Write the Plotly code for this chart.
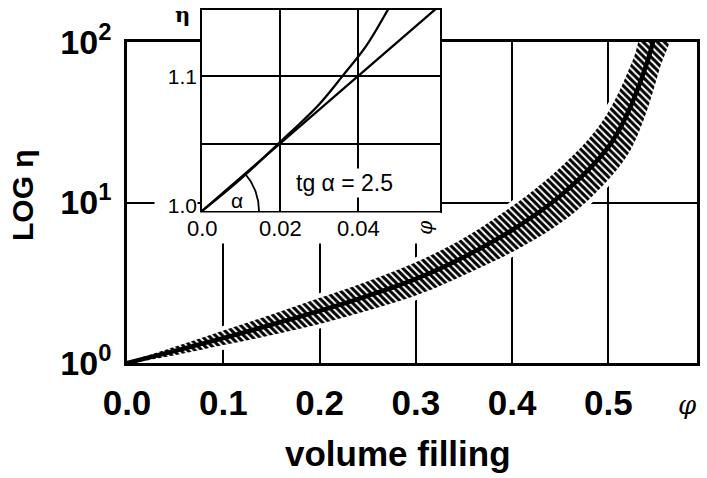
import numpy as np
import plotly.graph_objects as go

# ---------------- data ----------------
# main plot: centre curve and limits of the hatched band (log eta vs volume filling phi)
phi_center = [0.0, 0.05, 0.10, 0.15, 0.20, 0.25, 0.30, 0.35, 0.40, 0.45, 0.50, 0.52, 0.54, 0.548]
eta_center = [1.0, 1.19, 1.43, 1.73, 2.11, 2.62, 3.34, 4.58, 6.74, 11.0, 22.2, 36.1, 74.0, 110.0]

phi_upper = [0.0, 0.0488, 0.0978, 0.1472, 0.1967, 0.2457, 0.2940, 0.3422, 0.3880, 0.4340, 0.4820, 0.5040, 0.5262, 0.5358]
eta_upper = [1.0, 1.256, 1.578, 1.980, 2.505, 3.165, 4.098, 5.649, 8.45, 13.6, 26.0, 40.5, 79.5, 111.1]

phi_lower = [0.0, 0.0509, 0.1016, 0.1529, 0.2042, 0.2548, 0.3062, 0.3577, 0.4116, 0.4660, 0.5170, 0.5360, 0.5535, 0.5639]
eta_lower = [1.0, 1.123, 1.298, 1.503, 1.775, 2.161, 2.719, 3.706, 5.35, 8.80, 18.6, 32.0, 69.0, 115.0]

main_xticks = [0.0, 0.1, 0.2, 0.3, 0.4, 0.5]
main_xticktext = ["0.0", "0.1", "0.2", "0.3", "0.4", "0.5"]
main_yticks = [1, 10, 100]
main_yticktext = ["10<sup>0</sup>", "10<sup>1</sup>", "10<sup>2</sup>"]

# inset: Einstein straight line (tg alpha = 2.5) and measured curve
ins_line_phi = [0.0, 0.061]
ins_line_eta = [1.0, 1.1525]
ins_curve_phi = [0.0, 0.010, 0.020, 0.030, 0.036, 0.042, 0.0474, 0.050]
ins_curve_eta = [1.0, 1.024, 1.051, 1.079, 1.100, 1.122, 1.148, 1.162]

ins_xticks = [0.0, 0.02, 0.04]
ins_xticktext = ["0.0", "0.02", "0.04"]
ins_yticks = [1.0, 1.1]
ins_yticktext = ["1.0", "1.1"]
tg_alpha = 2.5

# ---------------- geometry ----------------
W, H = 707, 478
main_dom_x = [127 / W, 697 / W]
main_dom_y = [1 - 363 / H, 1 - 42 / H]
main_xrange = [0, 0.592]
main_yrange = [0, 2]

ins_dom_x = [202 / W, 440 / W]
ins_dom_y = [1 - 211 / H, 1 - 10 / H]
ins_xrange = [0, 0.061]
ins_yrange = [1.0, 1.149]

def ins_paper(xv, yv):
    px = ins_dom_x[0] + (xv - ins_xrange[0]) / (ins_xrange[1] - ins_xrange[0]) * (ins_dom_x[1] - ins_dom_x[0])
    py = ins_dom_y[0] + (yv - ins_yrange[0]) / (ins_yrange[1] - ins_yrange[0]) * (ins_dom_y[1] - ins_dom_y[0])
    return px, py

# pixel scale of the inset, used to draw the angle arc as a true circle
sx = (ins_dom_x[1] - ins_dom_x[0]) * W / (ins_xrange[1] - ins_xrange[0])
sy = (ins_dom_y[1] - ins_dom_y[0]) * H / (ins_yrange[1] - ins_yrange[0])
ang = np.arctan(tg_alpha * sy / sx)
t = np.linspace(0, ang, 40)
r_px = 57
arc_x = r_px * np.cos(t) / sx
arc_y = ins_yrange[0] + r_px * np.sin(t) / sy

FONT = "Liberation Sans, Arial, Helvetica, sans-serif"

fig = go.Figure()

band_x = phi_upper + phi_lower[::-1]
band_y = eta_upper + eta_lower[::-1]

# white halo around the band (interrupts grid lines)
fig.add_trace(go.Scatter(x=band_x, y=band_y, mode="lines", line=dict(color="white", width=9, shape="spline"),
                         xaxis="x", yaxis="y", hoverinfo="skip", showlegend=False))
# hatched band
fig.add_trace(go.Scatter(x=band_x, y=band_y, mode="lines", fill="toself", fillcolor="white",
                         fillpattern=dict(shape="\\", size=5, solidity=0.6, fgcolor="black", bgcolor="white",
                                          fgopacity=1),
                         line=dict(color="rgba(0,0,0,0)", width=0, shape="spline"),
                         xaxis="x", yaxis="y", hoverinfo="skip", showlegend=False))
# centre curve
fig.add_trace(go.Scatter(x=phi_center, y=eta_center, mode="lines", line=dict(color="black", width=4.5, shape="spline"),
                         xaxis="x", yaxis="y", hoverinfo="skip", showlegend=False))

# inset traces
fig.add_trace(go.Scatter(x=ins_line_phi, y=ins_line_eta, mode="lines", line=dict(color="black", width=2.3),
                         xaxis="x2", yaxis="y2", hoverinfo="skip", showlegend=False))
fig.add_trace(go.Scatter(x=ins_curve_phi, y=ins_curve_eta, mode="lines", line=dict(color="black", width=2.3, shape="spline"),
                         xaxis="x2", yaxis="y2", hoverinfo="skip", showlegend=False))
fig.add_trace(go.Scatter(x=arc_x, y=arc_y, mode="lines", line=dict(color="black", width=1.8),
                         xaxis="x2", yaxis="y2", hoverinfo="skip", showlegend=False))

axis_common = dict(showline=True, linecolor="black", mirror=True, zeroline=False, ticks="",
                   showgrid=True, gridcolor="black", fixedrange=True, automargin=False)

fig.update_layout(
    width=W, height=H, margin=dict(l=0, r=0, t=0, b=0, autoexpand=False),
    paper_bgcolor="white", plot_bgcolor="white", showlegend=False,
    xaxis=dict(domain=main_dom_x, range=main_xrange, tickvals=main_xticks, ticktext=main_xticktext,
               tickfont=dict(family=FONT, size=35, color="black", weight="bold"),
               ticklabelstandoff=7, linewidth=2.5, gridwidth=2, anchor="y", **axis_common),
    yaxis=dict(domain=main_dom_y, type="log", range=main_yrange, tickvals=main_yticks, ticktext=main_yticktext,
               tickfont=dict(family=FONT, size=34, color="black", weight="bold"),
               ticklabelstandoff=6, linewidth=2.5, gridwidth=2, anchor="x", **axis_common),
    xaxis2=dict(domain=ins_dom_x, range=ins_xrange, tickvals=[0.02, 0.04], showticklabels=False,
                linewidth=2, gridwidth=2, anchor="y2", **axis_common),
    yaxis2=dict(domain=ins_dom_y, range=ins_yrange, tickvals=[1.05, 1.1], showticklabels=False,
                linewidth=2, gridwidth=2, anchor="x2", **axis_common),
    shapes=[dict(type="rect", xref="x2", yref="y2", x0=ins_xrange[0], x1=ins_xrange[1],
                 y0=ins_yrange[0], y1=ins_yrange[1], layer="below", fillcolor="white", line=dict(width=0))],
)

ann = []
# white cover under the inset's tick labels
ann.append(dict(xref="paper", yref="paper", x=(157 + 440) / 2 / W, y=1 - 228 / H, text=" ",
                width=283, height=30, bgcolor="white", showarrow=False, borderpad=0,
                xanchor="center", yanchor="middle"))
# inset x tick labels
for v, s in zip(ins_xticks, ins_xticktext):
    px, py = ins_paper(v, ins_yrange[0])
    ann.append(dict(xref="paper", yref="paper", x=px, y=py, yshift=-18, text=s, showarrow=False,
                    font=dict(family=FONT, size=22, color="black"), xanchor="center", yanchor="middle"))
px, py = ins_paper(0.0571, ins_yrange[0])
ann.append(dict(xref="paper", yref="paper", x=px, y=py, yshift=-17, text="<i>φ</i>", showarrow=False,
                textangle=-90, font=dict(family="DejaVu Serif", size=20, color="black"),
                xanchor="center", yanchor="middle"))
# inset y tick labels
for v, s in zip(ins_yticks, ins_yticktext):
    px, py = ins_paper(ins_xrange[0], v)
    ann.append(dict(xref="paper", yref="paper", x=px, y=py, xshift=-4, yshift=5 if v == 1.0 else 0,
                    text=s, showarrow=False, bgcolor="white", width=42, align="right", borderpad=0,
                    font=dict(family=FONT, size=21, color="black"), xanchor="right", yanchor="middle"))
# eta label of inset
ann.append(dict(xref="paper", yref="paper", x=182 / W, y=1 - 14 / H, text="<b>η</b>", showarrow=False,
                font=dict(family="DejaVu Serif", size=21, color="black"), xanchor="center", yanchor="middle"))
# tg alpha text
px, py = ins_paper(0.0366, 1.0207)
ann.append(dict(xref="paper", yref="paper", x=px, y=py, text="tg α = 2.5", showarrow=False, bgcolor="white",
                borderpad=1, font=dict(family=FONT, size=23, color="black"), xanchor="center", yanchor="middle"))
# alpha near origin
px, py = ins_paper(0.0090, 1.0075)
ann.append(dict(xref="paper", yref="paper", x=px, y=py, text="α", showarrow=False,
                font=dict(family=FONT, size=21, color="black"), xanchor="center", yanchor="middle"))
# main axis titles
ann.append(dict(xref="paper", yref="paper", x=22 / W, y=1 - 195 / H, text="LOG η", textangle=-90, showarrow=False,
                font=dict(family=FONT, size=30, color="black", weight="bold"), xanchor="center", yanchor="middle"))
ann.append(dict(xref="paper", yref="paper", x=398 / W, y=1 - 453 / H, text="volume filling", showarrow=False,
                font=dict(family=FONT, size=35, color="black", weight="bold"), xanchor="center", yanchor="middle"))
ann.append(dict(xref="paper", yref="paper", x=687 / W, y=1 - 405 / H, text="<i>φ</i>", showarrow=False,
                font=dict(family="DejaVu Serif", size=26, color="black"), xanchor="center", yanchor="middle"))
fig.update_layout(annotations=ann)

fig.write_html("out.html")
